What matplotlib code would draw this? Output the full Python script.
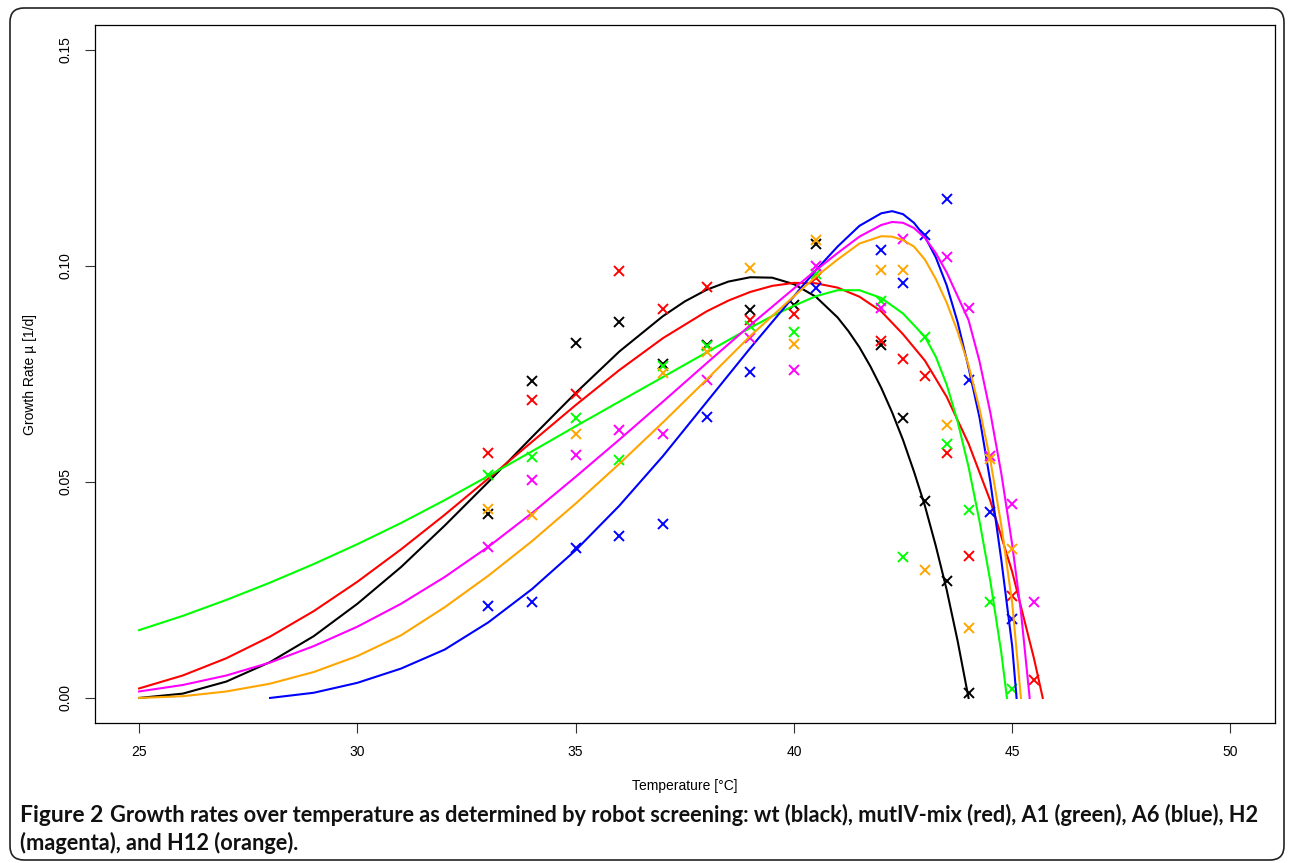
import matplotlib
matplotlib.use("Agg")
import matplotlib.pyplot as plt
from matplotlib.patches import FancyBboxPatch
from matplotlib.transforms import IdentityTransform

# measured growth rates (temperature, rate) per strain
wt_t = [33, 34, 35, 36, 37, 38, 39, 40, 40.5, 42, 42.5, 43, 43.5, 44]
wt_mu = [0.0425, 0.0734, 0.0822, 0.0871, 0.0773, 0.0817, 0.0899, 0.0909, 0.1052,
         0.0816, 0.0647, 0.0457, 0.0270, 0.0012]

mut_t = [33, 34, 35, 36, 37, 38, 39, 40, 40.5, 42, 42.5, 43, 43.5, 44, 45, 45.5]
mut_mu = [0.0567, 0.0690, 0.0703, 0.0988, 0.0901, 0.0951, 0.0874, 0.0888, 0.0973,
          0.0826, 0.0785, 0.0746, 0.0568, 0.0328, 0.0237, 0.0042]

a1_t = [33, 34, 35, 36, 37, 38, 39, 40, 40.5, 42, 42.5, 43, 43.5, 44, 44.5, 45]
a1_mu = [0.0516, 0.0558, 0.0649, 0.0550, 0.0769, 0.0815, 0.0862, 0.0848, 0.0982,
         0.0919, 0.0326, 0.0835, 0.0589, 0.0435, 0.0221, 0.0020]

a6_t = [33, 34, 35, 36, 37, 38, 39, 40.5, 42, 42.5, 43, 43.5, 44, 44.5, 45]
a6_mu = [0.0212, 0.0221, 0.0346, 0.0375, 0.0402, 0.0651, 0.0755, 0.0949, 0.1038,
         0.0960, 0.1071, 0.1154, 0.0736, 0.0430, 0.0183]

h2_t = [33, 34, 35, 36, 37, 38, 39, 40, 40.5, 42, 42.5, 43.5, 44, 44.5, 45, 45.5]
h2_mu = [0.0349, 0.0505, 0.0563, 0.0621, 0.0611, 0.0737, 0.0833, 0.0760, 0.0999,
         0.0903, 0.1063, 0.1021, 0.0903, 0.0560, 0.0450, 0.0223]

h12_t = [33, 34, 35, 37, 38, 39, 40, 40.5, 42, 42.5, 43, 43.5, 44, 44.5, 45]
h12_mu = [0.0437, 0.0423, 0.0610, 0.0752, 0.0802, 0.0996, 0.0820, 0.1060, 0.0990,
          0.0990, 0.0297, 0.0632, 0.0161, 0.0554, 0.0344]

# fitted curves
wt_ct = [25, 26, 27, 28, 29, 30, 31, 32, 33, 34, 35, 36, 37, 37.5, 38, 38.5, 39,
         39.5, 40, 40.5, 41, 41.25, 41.5, 41.75, 42, 42.25, 42.5, 42.75, 43, 43.25,
         43.5, 43.75, 44]
wt_cv = [0.0000, 0.0010, 0.0038, 0.0083, 0.0143, 0.0218, 0.0303, 0.0399, 0.0500,
         0.0604, 0.0706, 0.0802, 0.0884, 0.0918, 0.0945, 0.0964, 0.0974, 0.0973,
         0.0958, 0.0929, 0.0881, 0.0849, 0.0812, 0.0768, 0.0718, 0.0661, 0.0597,
         0.0524, 0.0445, 0.0352, 0.0250, 0.0132, 0.0000]

mut_ct = [25, 26, 27, 28, 29, 30, 31, 32, 33, 34, 35, 36, 37, 38, 38.5, 39, 39.5,
          40, 40.5, 41, 41.5, 42, 42.5, 43, 43.5, 44, 44.5, 45, 45.5, 45.7]
mut_cv = [0.0022, 0.0052, 0.0092, 0.0142, 0.0201, 0.0269, 0.0344, 0.0424, 0.0508,
          0.0593, 0.0678, 0.0759, 0.0833, 0.0895, 0.0920, 0.0940, 0.0954, 0.0961,
          0.0960, 0.0950, 0.0929, 0.0895, 0.0842, 0.0781, 0.0697, 0.0589, 0.0456,
          0.0292, 0.0091, 0.0000]

a1_ct = [25, 26, 27, 28, 29, 30, 31, 32, 33, 34, 35, 36, 37, 38, 39, 39.5, 40, 40.5,
         41, 41.5, 42, 42.5, 43, 43.25, 43.5, 43.75, 44, 44.25, 44.5, 44.75, 44.88]
a1_cv = [0.0157, 0.0190, 0.0227, 0.0267, 0.0310, 0.0356, 0.0405, 0.0458, 0.0514,
         0.0571, 0.0629, 0.0686, 0.0743, 0.0800, 0.0857, 0.0884, 0.0908, 0.0930,
         0.0944, 0.0944, 0.0926, 0.0890, 0.0836, 0.0790, 0.0725, 0.0640, 0.0535,
         0.0410, 0.0270, 0.0105, 0.0000]

a6_ct = [28, 29, 30, 31, 32, 33, 34, 35, 36, 37, 38, 39, 40, 40.5, 41, 41.5, 42,
         42.25, 42.5, 42.75, 43, 43.25, 43.5, 43.75, 44, 44.25, 44.5, 44.75, 45, 45.1]
a6_cv = [0.0000, 0.0012, 0.0035, 0.0068, 0.0112, 0.0175, 0.0252, 0.0342, 0.0445,
         0.0560, 0.0685, 0.0810, 0.0930, 0.0990, 0.1045, 0.1093, 0.1122, 0.1127,
         0.1120, 0.1100, 0.1068, 0.1020, 0.0955, 0.0870, 0.0765, 0.0650, 0.0500,
         0.0320, 0.0120, 0.0000]

h2_ct = [25, 26, 27, 28, 29, 30, 31, 32, 33, 34, 35, 36, 37, 38, 39, 40, 40.5, 41,
         41.5, 42, 42.25, 42.5, 42.75, 43, 43.25, 43.5, 43.75, 44, 44.25, 44.5,
         44.75, 45, 45.2, 45.4]
h2_cv = [0.0015, 0.0030, 0.0052, 0.0082, 0.0120, 0.0165, 0.0218, 0.0280, 0.0350,
         0.0428, 0.0512, 0.0598, 0.0686, 0.0775, 0.0863, 0.0948, 0.0990, 0.1030,
         0.1068, 0.1095, 0.1102, 0.1100, 0.1088, 0.1065, 0.1030, 0.0985, 0.0930,
         0.0875, 0.0780, 0.0660, 0.0520, 0.0355, 0.0200, 0.0000]

h12_ct = [25, 26, 27, 28, 29, 30, 31, 32, 33, 34, 35, 36, 37, 38, 39, 40, 40.5, 41,
          41.5, 42, 42.25, 42.5, 42.75, 43, 43.25, 43.5, 43.75, 44, 44.25, 44.5,
          44.75, 45, 45.2]
h12_cv = [0.0000, 0.0004, 0.0015, 0.0033, 0.0060, 0.0097, 0.0145, 0.0210, 0.0283,
          0.0363, 0.0450, 0.0542, 0.0638, 0.0737, 0.0838, 0.0930, 0.0975, 0.1015,
          0.1052, 0.1069, 0.1068, 0.1060, 0.1045, 0.1015, 0.0970, 0.0915, 0.0848,
          0.0770, 0.0670, 0.0550, 0.0400, 0.0220, 0.0000]

strains = [
    ("black", wt_t, wt_mu, wt_ct, wt_cv),
    ("#FF0000", mut_t, mut_mu, mut_ct, mut_cv),
    ("#00FF00", a1_t, a1_mu, a1_ct, a1_cv),
    ("#0000FF", a6_t, a6_mu, a6_ct, a6_cv),
    ("#FF00FF", h2_t, h2_mu, h2_ct, h2_cv),
    ("#FFA500", h12_t, h12_mu, h12_ct, h12_cv),
]

plt.rcParams['font.family'] = ['Liberation Sans', 'DejaVu Sans']

W, H = 1290, 863
fig = plt.figure(figsize=(W / 100, H / 100), dpi=100)

# rounded frame around figure + caption
frame = FancyBboxPatch((10, 3), 1274, 852, boxstyle="round,pad=0,rounding_size=14",
                       transform=IdentityTransform(), fill=False, edgecolor="#222222",
                       linewidth=1.2)
fig.patches.append(frame)

ax = fig.add_axes([95 / W, 1 - 723 / H, (1275 - 95) / W, (723 - 25) / H])
for color, t, mu, ct, cv in strains:
    ax.plot(t, mu, linestyle="none", marker="x", color=color, markersize=6.5, mew=1.4)
    ax.plot(ct, cv, color=color, linewidth=1.5)

ax.set_xlim(23.99, 51.02)
ax.set_ylim(-0.0058, 0.1558)
ax.set_xticks([25, 30, 35, 40, 45, 50])
ax.set_yticks([0.00, 0.05, 0.10, 0.15])
ax.set_yticklabels(["0.00", "0.05", "0.10", "0.15"], rotation=90, va="center")
ax.tick_params(direction="out", length=7, width=0.8, labelsize=10, pad=9, color="#333333")
for s in ax.spines.values():
    s.set_linewidth(0.9)
ax.set_xlabel("Temperature [°C]", fontsize=10, labelpad=14)
ax.set_ylabel("Growth Rate µ [1/d]", fontsize=10, labelpad=16)

cap_font = ["Lato", "DejaVu Sans"]
fig.text(20 / W, 1 - 815 / H, "Figure 2", fontsize=16.5, fontweight="bold",
         family=cap_font, va="center", ha="left", color="#111111")
fig.text(110 / W, 1 - 815 / H,
         "Growth rates over temperature as determined by robot screening: wt (black), "
         "mutIV-mix (red), A1 (green), A6 (blue), H2",
         fontsize=15.7, fontweight="bold", family=cap_font,
         va="center", ha="left", color="#111111")
fig.text(20 / W, 1 - 843 / H, "(magenta), and H12 (orange).", fontsize=15.7,
         fontweight="bold", family=cap_font, va="center", ha="left", color="#111111")

fig.savefig("out.png", dpi=100)
